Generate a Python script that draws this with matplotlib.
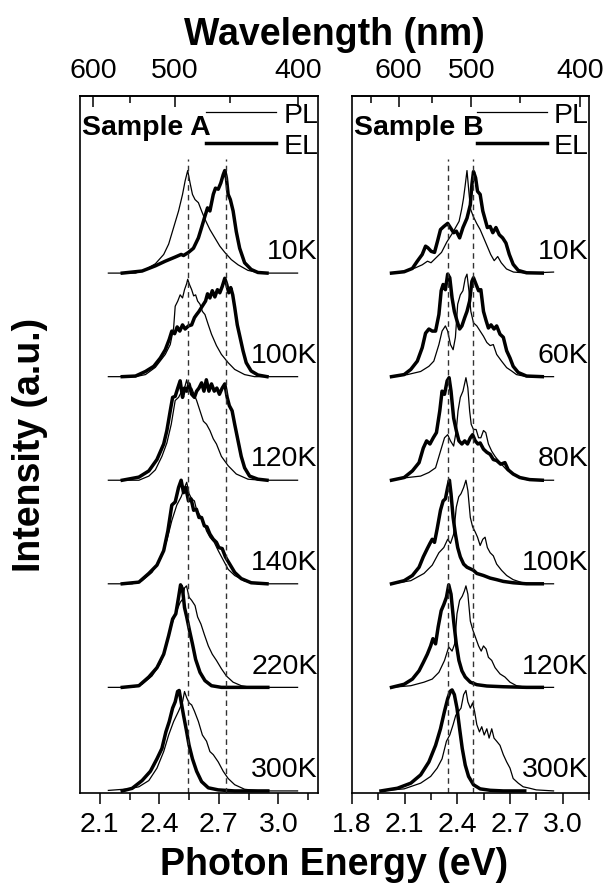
import numpy as np
import matplotlib.pyplot as plt
from matplotlib.ticker import MultipleLocator, FormatStrFormatter, FixedLocator
import matplotlib.transforms as mtransforms

plt.rcParams['font.family'] = ['Liberation Sans', 'DejaVu Sans']

# ---------------- Sample A ----------------
temps_a = ['10K', '100K', '120K', '140K', '220K', '300K']
dash_a = [2.545, 2.735]

a10_pl_e = [2.143, 2.28, 2.33, 2.38, 2.422, 2.447, 2.472, 2.497, 2.517, 2.53, 2.543, 2.555, 2.567, 2.58, 2.597, 2.613, 2.63, 2.655, 2.68, 2.705, 2.73, 2.763, 2.797, 2.847, 2.913, 3.097]
a10_pl_i = [0, 0, 0.035, 0.09, 0.18, 0.28, 0.44, 0.6, 0.76, 0.89, 0.99, 0.87, 0.76, 0.71, 0.68, 0.6, 0.52, 0.42, 0.34, 0.26, 0.2, 0.13, 0.08, 0.026, 0, 0]
a10_el_e = [2.213, 2.313, 2.38, 2.43, 2.48, 2.51, 2.522, 2.547, 2.572, 2.597, 2.613, 2.63, 2.643, 2.655, 2.672, 2.683, 2.697, 2.71, 2.722, 2.73, 2.738, 2.747, 2.758, 2.772, 2.788, 2.805, 2.83, 2.863, 2.897, 2.943]
a10_el_i = [0, 0.02, 0.07, 0.115, 0.155, 0.18, 0.17, 0.2, 0.24, 0.34, 0.44, 0.55, 0.63, 0.6, 0.76, 0.82, 0.81, 0.87, 0.95, 0.99, 0.92, 0.76, 0.71, 0.6, 0.4, 0.24, 0.1, 0.035, 0.006, 0]

a100_pl_e = [2.143, 2.28, 2.33, 2.38, 2.43, 2.455, 2.472, 2.48, 2.493, 2.505, 2.517, 2.527, 2.538, 2.543, 2.552, 2.563, 2.573, 2.583, 2.593, 2.605, 2.617, 2.63, 2.647, 2.663, 2.688, 2.713, 2.747, 2.78, 2.83, 2.88, 3.097]
a100_pl_i = [0, 0, 0.02, 0.09, 0.215, 0.31, 0.47, 0.68, 0.73, 0.79, 0.76, 0.84, 0.9, 0.94, 0.89, 0.84, 0.78, 0.79, 0.73, 0.7, 0.63, 0.6, 0.5, 0.41, 0.3, 0.215, 0.135, 0.07, 0.02, 0, 0]
a100_el_e = [2.213, 2.28, 2.33, 2.372, 2.405, 2.43, 2.45, 2.463, 2.477, 2.49, 2.503, 2.517, 2.53, 2.547, 2.563, 2.577, 2.588, 2.6, 2.613, 2.623, 2.633, 2.643, 2.655, 2.667, 2.68, 2.693, 2.705, 2.717, 2.73, 2.74, 2.75, 2.76, 2.77, 2.78, 2.793, 2.807, 2.822, 2.838, 2.863, 2.897, 2.943]
a100_el_i = [0, 0.006, 0.05, 0.1, 0.18, 0.26, 0.36, 0.44, 0.415, 0.48, 0.44, 0.5, 0.46, 0.49, 0.5, 0.57, 0.6, 0.63, 0.67, 0.7, 0.73, 0.8, 0.76, 0.83, 0.77, 0.84, 0.81, 0.87, 0.95, 0.89, 0.81, 0.86, 0.79, 0.67, 0.5, 0.38, 0.25, 0.135, 0.055, 0.016, 0]

a120_pl_e = [2.143, 2.297, 2.347, 2.38, 2.413, 2.438, 2.46, 2.48, 2.497, 2.513, 2.527, 2.538, 2.55, 2.563, 2.575, 2.588, 2.605, 2.622, 2.638, 2.655, 2.672, 2.688, 2.713, 2.747, 2.788, 2.847, 2.913, 3.097]
a120_pl_i = [0, 0, 0.04, 0.1, 0.23, 0.36, 0.54, 0.77, 0.8, 0.86, 0.89, 0.97, 0.86, 0.89, 0.83, 0.77, 0.67, 0.57, 0.54, 0.48, 0.4, 0.35, 0.23, 0.14, 0.06, 0.01, 0, 0]
a120_el_e = [2.213, 2.297, 2.347, 2.388, 2.422, 2.438, 2.455, 2.467, 2.48, 2.493, 2.505, 2.517, 2.527, 2.538, 2.55, 2.563, 2.577, 2.588, 2.6, 2.613, 2.625, 2.637, 2.65, 2.663, 2.677, 2.69, 2.703, 2.717, 2.73, 2.742, 2.753, 2.767, 2.78, 2.797, 2.813, 2.83, 2.855, 2.897, 2.943]
a120_el_i = [0, 0.03, 0.09, 0.2, 0.35, 0.48, 0.67, 0.8, 0.81, 0.89, 0.96, 0.8, 0.89, 0.86, 0.93, 0.83, 0.8, 0.86, 0.89, 0.94, 0.86, 0.97, 0.86, 0.93, 0.86, 0.89, 0.83, 0.89, 0.93, 0.8, 0.72, 0.67, 0.54, 0.38, 0.23, 0.12, 0.04, 0.01, 0]

a140_pl_e = [2.143, 2.263, 2.313, 2.363, 2.405, 2.438, 2.463, 2.488, 2.51, 2.527, 2.538, 2.55, 2.563, 2.577, 2.588, 2.605, 2.622, 2.638, 2.655, 2.677, 2.697, 2.722, 2.747, 2.78, 2.83, 2.897, 3.097]
a140_pl_i = [0, 0, 0.03, 0.11, 0.24, 0.42, 0.61, 0.76, 0.84, 0.93, 0.98, 0.87, 0.82, 0.8, 0.71, 0.66, 0.6, 0.51, 0.45, 0.4, 0.32, 0.23, 0.14, 0.08, 0.026, 0, 0]
a140_el_e = [2.213, 2.297, 2.347, 2.388, 2.422, 2.443, 2.463, 2.48, 2.497, 2.51, 2.522, 2.533, 2.547, 2.56, 2.573, 2.587, 2.6, 2.613, 2.627, 2.64, 2.655, 2.672, 2.688, 2.7, 2.717, 2.733, 2.755, 2.78, 2.813, 2.863, 2.943]
a140_el_i = [0, 0.016, 0.1, 0.18, 0.32, 0.51, 0.76, 0.79, 0.93, 1.0, 0.88, 0.93, 0.8, 0.82, 0.71, 0.72, 0.64, 0.64, 0.56, 0.55, 0.48, 0.43, 0.4, 0.35, 0.34, 0.26, 0.19, 0.11, 0.05, 0.01, 0]

a220_pl_e = [2.143, 2.263, 2.313, 2.363, 2.405, 2.438, 2.463, 2.488, 2.505, 2.517, 2.527, 2.537, 2.55, 2.563, 2.58, 2.593, 2.61, 2.627, 2.647, 2.667, 2.688, 2.713, 2.738, 2.772, 2.813, 2.863, 3.097]
a220_pl_i = [0, 0, 0.03, 0.11, 0.23, 0.42, 0.61, 0.74, 0.82, 0.85, 0.96, 0.98, 0.87, 0.84, 0.79, 0.68, 0.61, 0.51, 0.4, 0.32, 0.26, 0.18, 0.11, 0.05, 0.016, 0, 0]
a220_el_e = [2.213, 2.297, 2.347, 2.388, 2.422, 2.447, 2.467, 2.483, 2.497, 2.507, 2.517, 2.527, 2.538, 2.552, 2.567, 2.583, 2.605, 2.63, 2.663, 2.713, 2.947]
a220_el_i = [0, 0.016, 0.1, 0.19, 0.32, 0.5, 0.66, 0.71, 0.87, 0.99, 0.95, 0.77, 0.68, 0.55, 0.42, 0.27, 0.145, 0.065, 0.016, 0, 0]

a300_pl_e = [2.143, 2.247, 2.297, 2.347, 2.388, 2.422, 2.447, 2.472, 2.497, 2.517, 2.527, 2.538, 2.55, 2.563, 2.577, 2.597, 2.617, 2.638, 2.655, 2.672, 2.697, 2.722, 2.747, 2.78, 2.83, 2.913, 3.097]
a300_pl_i = [0.005, 0.02, 0.04, 0.1, 0.22, 0.38, 0.54, 0.67, 0.77, 0.86, 0.96, 0.9, 0.85, 0.83, 0.77, 0.67, 0.54, 0.48, 0.38, 0.35, 0.28, 0.19, 0.12, 0.06, 0.016, 0, 0]
a300_el_e = [2.213, 2.263, 2.313, 2.355, 2.388, 2.413, 2.433, 2.45, 2.467, 2.48, 2.492, 2.5, 2.51, 2.522, 2.535, 2.55, 2.567, 2.588, 2.613, 2.647, 2.697, 2.78, 2.947]
a300_el_i = [0, 0.025, 0.1, 0.19, 0.31, 0.41, 0.57, 0.67, 0.8, 0.86, 0.96, 0.97, 0.86, 0.73, 0.6, 0.44, 0.31, 0.19, 0.09, 0.03, 0.01, 0, 0]

# ---------------- Sample B ----------------
temps_b = ['10K', '60K', '80K', '100K', '120K', '300K']
dash_b = [2.345, 2.49]

b10_pl_e = [2.025, 2.10, 2.16, 2.20, 2.23, 2.25, 2.28, 2.31, 2.34, 2.37, 2.39, 2.41, 2.425, 2.435, 2.445, 2.455, 2.465, 2.475, 2.49, 2.51, 2.53, 2.55, 2.57, 2.59, 2.61, 2.63, 2.65, 2.68, 2.72, 2.80, 2.948]
b10_pl_i = [0, 0.02, 0.05, 0.08, 0.115, 0.1, 0.15, 0.2, 0.3, 0.38, 0.44, 0.5, 0.62, 0.72, 0.85, 0.99, 0.8, 0.62, 0.55, 0.48, 0.42, 0.34, 0.26, 0.18, 0.12, 0.16, 0.1, 0.04, 0.01, 0, 0.01]
b10_el_e = [2.025, 2.097, 2.144, 2.172, 2.2, 2.219, 2.232, 2.251, 2.27, 2.289, 2.304, 2.323, 2.345, 2.36, 2.379, 2.394, 2.413, 2.432, 2.455, 2.474, 2.483, 2.492, 2.504, 2.515, 2.53, 2.545, 2.558, 2.571, 2.587, 2.602, 2.62, 2.639, 2.658, 2.677, 2.696, 2.718, 2.747, 2.794, 2.884]
b10_el_i = [0, 0.013, 0.045, 0.115, 0.18, 0.26, 0.245, 0.21, 0.2, 0.32, 0.42, 0.45, 0.48, 0.44, 0.39, 0.405, 0.34, 0.44, 0.53, 0.66, 0.855, 0.98, 0.92, 0.79, 0.76, 0.6, 0.52, 0.44, 0.45, 0.39, 0.44, 0.37, 0.34, 0.29, 0.18, 0.085, 0.026, 0.003, 0]

b60_pl_e = [2.025, 2.116, 2.191, 2.238, 2.266, 2.295, 2.313, 2.332, 2.345, 2.361, 2.376, 2.389, 2.402, 2.417, 2.432, 2.445, 2.455, 2.466, 2.477, 2.492, 2.511, 2.53, 2.549, 2.568, 2.587, 2.605, 2.624, 2.652, 2.681, 2.709, 2.737, 2.794, 2.948]
b60_pl_i = [0, 0.02, 0.05, 0.1, 0.15, 0.31, 0.44, 0.49, 0.44, 0.31, 0.26, 0.38, 0.7, 0.79, 0.83, 0.95, 0.99, 0.83, 0.63, 0.52, 0.49, 0.44, 0.39, 0.33, 0.3, 0.31, 0.215, 0.15, 0.087, 0.055, 0.02, 0, 0]
b60_el_e = [2.025, 2.097, 2.135, 2.172, 2.2, 2.219, 2.238, 2.257, 2.276, 2.295, 2.308, 2.319, 2.332, 2.345, 2.357, 2.37, 2.383, 2.398, 2.413, 2.426, 2.442, 2.455, 2.47, 2.483, 2.492, 2.507, 2.521, 2.534, 2.549, 2.564, 2.577, 2.592, 2.609, 2.624, 2.643, 2.662, 2.681, 2.7, 2.718, 2.747, 2.794, 2.884]
b60_el_i = [0, 0.02, 0.07, 0.15, 0.28, 0.42, 0.46, 0.44, 0.44, 0.6, 0.83, 0.89, 0.84, 0.99, 0.955, 0.76, 0.63, 0.54, 0.46, 0.49, 0.57, 0.63, 0.73, 0.92, 0.955, 0.89, 0.83, 0.84, 0.63, 0.54, 0.47, 0.5, 0.46, 0.49, 0.41, 0.38, 0.25, 0.18, 0.1, 0.04, 0.006, 0]

b80_pl_e = [2.025, 2.116, 2.191, 2.238, 2.276, 2.304, 2.327, 2.345, 2.361, 2.379, 2.394, 2.404, 2.417, 2.432, 2.449, 2.46, 2.47, 2.479, 2.492, 2.507, 2.521, 2.534, 2.549, 2.562, 2.577, 2.596, 2.615, 2.643, 2.681, 2.718, 2.756, 2.812, 2.948]
b80_pl_i = [0, 0.026, 0.04, 0.075, 0.12, 0.28, 0.41, 0.44, 0.38, 0.33, 0.48, 0.67, 0.8, 0.86, 0.99, 0.89, 0.67, 0.54, 0.49, 0.49, 0.41, 0.41, 0.48, 0.46, 0.35, 0.28, 0.23, 0.17, 0.1, 0.06, 0.02, 0, 0]
b80_el_e = [2.025, 2.097, 2.144, 2.182, 2.206, 2.225, 2.244, 2.263, 2.281, 2.3, 2.313, 2.327, 2.342, 2.353, 2.364, 2.379, 2.394, 2.409, 2.426, 2.442, 2.458, 2.474, 2.487, 2.502, 2.517, 2.53, 2.549, 2.568, 2.587, 2.605, 2.624, 2.647, 2.671, 2.69, 2.718, 2.756, 2.812, 2.884]
b80_el_i = [0, 0.026, 0.09, 0.17, 0.31, 0.38, 0.35, 0.41, 0.46, 0.67, 0.86, 0.83, 0.96, 0.99, 0.86, 0.6, 0.48, 0.38, 0.35, 0.38, 0.35, 0.41, 0.44, 0.38, 0.35, 0.36, 0.3, 0.27, 0.25, 0.2, 0.19, 0.155, 0.17, 0.1, 0.06, 0.026, 0.006, 0]

b100_pl_e = [2.025, 2.135, 2.21, 2.257, 2.295, 2.323, 2.345, 2.361, 2.379, 2.394, 2.408, 2.421, 2.436, 2.449, 2.46, 2.474, 2.487, 2.502, 2.515, 2.53, 2.545, 2.558, 2.571, 2.587, 2.605, 2.624, 2.652, 2.681, 2.718, 2.765, 2.831, 2.948]
b100_pl_i = [0, 0.03, 0.1, 0.18, 0.3, 0.35, 0.43, 0.39, 0.48, 0.74, 0.84, 0.87, 0.93, 1.0, 0.9, 0.64, 0.55, 0.5, 0.45, 0.37, 0.43, 0.45, 0.35, 0.3, 0.27, 0.19, 0.13, 0.08, 0.04, 0.013, 0, 0]
b100_el_e = [2.025, 2.097, 2.144, 2.182, 2.206, 2.229, 2.244, 2.257, 2.27, 2.285, 2.304, 2.319, 2.332, 2.345, 2.355, 2.364, 2.376, 2.389, 2.402, 2.417, 2.436, 2.455, 2.474, 2.492, 2.511, 2.549, 2.587, 2.624, 2.662, 2.718, 2.794, 2.884]
b100_el_i = [0, 0.03, 0.08, 0.16, 0.26, 0.34, 0.39, 0.43, 0.4, 0.53, 0.71, 0.8, 0.82, 0.93, 1.0, 0.87, 0.64, 0.48, 0.35, 0.26, 0.19, 0.16, 0.145, 0.13, 0.1, 0.08, 0.055, 0.04, 0.023, 0.01, 0, 0]

b120_pl_e = [2.025, 2.135, 2.21, 2.257, 2.295, 2.327, 2.351, 2.37, 2.385, 2.398, 2.413, 2.428, 2.44, 2.449, 2.46, 2.474, 2.489, 2.504, 2.521, 2.536, 2.549, 2.564, 2.577, 2.596, 2.615, 2.643, 2.671, 2.7, 2.737, 2.794, 2.948]
b120_pl_i = [0, 0.016, 0.05, 0.08, 0.145, 0.26, 0.39, 0.35, 0.42, 0.71, 0.84, 0.88, 0.93, 0.98, 0.9, 0.64, 0.55, 0.48, 0.4, 0.35, 0.4, 0.37, 0.29, 0.26, 0.19, 0.13, 0.1, 0.05, 0.016, 0, 0]
b120_el_e = [2.025, 2.097, 2.144, 2.182, 2.206, 2.229, 2.248, 2.261, 2.276, 2.291, 2.308, 2.323, 2.338, 2.351, 2.364, 2.379, 2.394, 2.409, 2.426, 2.445, 2.474, 2.511, 2.568, 2.662, 2.794, 2.884]
b120_el_i = [0, 0.03, 0.08, 0.16, 0.24, 0.32, 0.4, 0.47, 0.42, 0.585, 0.74, 0.8, 0.87, 0.99, 0.9, 0.64, 0.42, 0.26, 0.16, 0.1, 0.05, 0.026, 0.013, 0.006, 0, 0]

b300_pl_e = [1.965, 2.097, 2.191, 2.248, 2.285, 2.313, 2.338, 2.357, 2.376, 2.391, 2.408, 2.421, 2.436, 2.449, 2.46, 2.474, 2.487, 2.498, 2.511, 2.526, 2.539, 2.553, 2.568, 2.581, 2.596, 2.609, 2.624, 2.643, 2.662, 2.681, 2.7, 2.718, 2.747, 2.775, 2.812, 2.85, 2.948]
b300_pl_i = [0, 0.02, 0.075, 0.14, 0.22, 0.31, 0.48, 0.54, 0.64, 0.73, 0.77, 0.8, 0.93, 0.97, 0.86, 0.8, 0.85, 0.77, 0.64, 0.57, 0.62, 0.54, 0.6, 0.51, 0.6, 0.51, 0.48, 0.44, 0.35, 0.28, 0.22, 0.12, 0.075, 0.04, 0.026, 0.01, 0]
b300_el_e = [1.965, 2.059, 2.135, 2.191, 2.238, 2.276, 2.304, 2.327, 2.345, 2.361, 2.37, 2.383, 2.398, 2.413, 2.428, 2.445, 2.464, 2.492, 2.53, 2.587, 2.662, 2.784]
b300_el_i = [0, 0.026, 0.075, 0.155, 0.28, 0.44, 0.6, 0.77, 0.89, 0.965, 0.975, 0.93, 0.8, 0.6, 0.41, 0.25, 0.14, 0.06, 0.02, 0.006, 0, 0]

spectra_a = [(a10_pl_e, a10_pl_i, a10_el_e, a10_el_i),
             (a100_pl_e, a100_pl_i, a100_el_e, a100_el_i),
             (a120_pl_e, a120_pl_i, a120_el_e, a120_el_i),
             (a140_pl_e, a140_pl_i, a140_el_e, a140_el_i),
             (a220_pl_e, a220_pl_i, a220_el_e, a220_el_i),
             (a300_pl_e, a300_pl_i, a300_el_e, a300_el_i)]
spectra_b = [(b10_pl_e, b10_pl_i, b10_el_e, b10_el_i),
             (b60_pl_e, b60_pl_i, b60_el_e, b60_el_i),
             (b80_pl_e, b80_pl_i, b80_el_e, b80_el_i),
             (b100_pl_e, b100_pl_i, b100_el_e, b100_el_i),
             (b120_pl_e, b120_pl_i, b120_el_e, b120_el_i),
             (b300_pl_e, b300_pl_i, b300_el_e, b300_el_i)]


def ev2nm(x):
    x = np.asarray(x, dtype=float)
    return 1239.84 / np.where(np.abs(x) < 1e-6, 1e-6, x)


FS = 20.5
ylo, yhi = -0.02, 6.71

fig = plt.figure(figsize=(6.05, 8.87), dpi=100)
ax_a = fig.add_axes([80 / 605, 1 - 794 / 887, 238 / 605, 697 / 887])
ax_b = fig.add_axes([352 / 605, 1 - 794 / 887, 237 / 605, 697 / 887])


def panel(ax, spectra, temps, xlim, dashes, name):
    n = len(spectra)
    for k, (pe, pi, ee, ei) in enumerate(spectra):
        off = n - 1 - k
        ax.plot(pe, np.array(pi) + off, color='black', lw=0.9, label='PL' if k == 0 else None)
        ax.plot(ee, np.array(ei) + off, color='black', lw=2.5, solid_joinstyle='round',
                label='EL' if k == 0 else None)
        tr = mtransforms.blended_transform_factory(ax.transAxes, ax.transData)
        ax.text(0.998, off + 0.21, temps[k], transform=tr, ha='right', va='center', fontsize=FS)
    for d in dashes:
        ax.axvline(d, ymin=0, ymax=(6.1 - ylo) / (yhi - ylo), color='#333333', lw=1.0,
                   ls=(0, (4, 3)))
    ax.set_xlim(*xlim)
    ax.set_ylim(ylo, yhi)
    ax.set_yticks([])
    ax.xaxis.set_major_locator(MultipleLocator(0.3))
    ax.xaxis.set_minor_locator(MultipleLocator(0.15))
    ax.xaxis.set_major_formatter(FormatStrFormatter('%.1f'))
    ax.tick_params(axis='x', which='major', direction='out', length=8, width=1.1,
                   labelsize=FS, pad=5)
    ax.tick_params(axis='x', which='minor', direction='out', length=5, width=1.1)
    for s in ax.spines.values():
        s.set_linewidth(1.2)
    ax.text(0.01, 0.9555, name, transform=ax.transAxes, ha='left', va='center',
            fontsize=FS, fontweight='bold')
    ax.legend(loc='upper right', bbox_to_anchor=(1.0, 0.992), frameon=False, fontsize=FS,
              handlelength=2.45, handletextpad=0.25, labelspacing=0.2, borderpad=0,
              borderaxespad=0)
    sec = ax.secondary_xaxis('top', functions=(ev2nm, ev2nm))
    sec.xaxis.set_major_locator(FixedLocator([600, 500, 400]))
    sec.xaxis.set_minor_locator(FixedLocator([650, 550, 450]))
    sec.tick_params(which='major', direction='in', length=8, width=1.1, labelsize=FS, pad=9)
    sec.tick_params(which='minor', direction='in', length=5, width=1.1)
    sec.spines['top'].set_linewidth(1.2)


panel(ax_a, spectra_a, temps_a, (2.0, 3.2), dash_a, 'Sample A')
panel(ax_b, spectra_b, temps_b, (1.8, 3.15), dash_b, 'Sample B')

fig.text(334 / 605, 1 - 45 / 887, 'Wavelength (nm)', ha='center', va='baseline',
         fontsize=27, fontweight='bold')
fig.text(334 / 605, 1 - 875 / 887, 'Photon Energy (eV)', ha='center', va='baseline',
         fontsize=27, fontweight='bold')
fig.text(30 / 605, 1 - 445 / 887, 'Intensity (a.u.)', ha='center', va='center',
         rotation=90, fontsize=27, fontweight='bold')

fig.savefig('out.png', dpi=100)
